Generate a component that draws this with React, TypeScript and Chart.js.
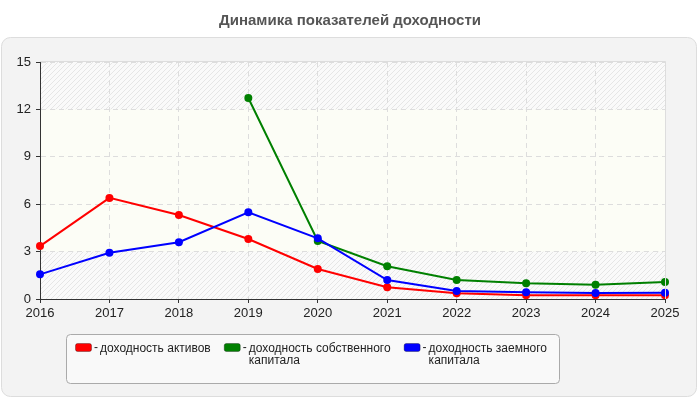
import { useEffect, useRef } from 'react';
import { Chart, registerables } from 'chart.js';
Chart.register(...registerables);

const chartTitle = 'Динамика показателей доходности';
const years = ['2016', '2017', '2018', '2019', '2020', '2021', '2022', '2023', '2024', '2025'];
const seriesLabels = ['доходность активов', 'доходность собственного капитала', 'доходность заемного капитала'];
const seriesColors = ['#ff0000', '#008000', '#0000ff'];
const assetsReturn = [3.35, 6.4, 5.32, 3.8, 1.9, 0.75, 0.37, 0.24, 0.24, 0.24];
const equityReturn = [null, null, null, 12.72, 3.67, 2.07, 1.2, 0.99, 0.9, 1.08];
const debtReturn = [1.56, 2.93, 3.59, 5.49, 3.84, 1.2, 0.5, 0.42, 0.38, 0.4];
const yTicks = [0, 3, 6, 9, 12, 15];
const bandRange = [3, 12];

const FONT = 'Arial, "Liberation Sans", sans-serif';

function roundRect(ctx: CanvasRenderingContext2D, x: number, y: number, w: number, h: number, r: number) {
  ctx.beginPath();
  ctx.moveTo(x + r, y);
  ctx.lineTo(x + w - r, y);
  ctx.arcTo(x + w, y, x + w, y + r, r);
  ctx.lineTo(x + w, y + h - r);
  ctx.arcTo(x + w, y + h, x + w - r, y + h, r);
  ctx.lineTo(x + r, y + h);
  ctx.arcTo(x, y + h, x, y + h - r, r);
  ctx.lineTo(x, y + r);
  ctx.arcTo(x, y, x + r, y, r);
  ctx.closePath();
}

function makeHatch(ctx: CanvasRenderingContext2D) {
  const s = 5;
  const c = document.createElement('canvas');
  c.width = s;
  c.height = s;
  const g = c.getContext('2d')!;
  g.fillStyle = '#fafafa';
  g.fillRect(0, 0, s, s);
  g.strokeStyle = '#e6e6e6';
  g.lineWidth = 1;
  g.beginPath();
  g.moveTo(0, s);
  g.lineTo(s, 0);
  g.moveTo(-1, 1);
  g.lineTo(1, -1);
  g.moveTo(s - 1, s + 1);
  g.lineTo(s + 1, s - 1);
  g.stroke();
  return ctx.createPattern(c, 'repeat');
}

function wrap(ctx: CanvasRenderingContext2D, text: string, maxW: number) {
  const words = text.split(' ');
  const lines: string[] = [];
  let cur = '';
  for (const w of words) {
    const t = cur ? cur + ' ' + w : w;
    if (cur && ctx.measureText(t).width > maxW) {
      lines.push(cur);
      cur = w;
    } else cur = t;
  }
  if (cur) lines.push(cur);
  return lines;
}

const decorPlugin = {
  id: 'decor',
  beforeDraw(chart: any) {
    const { ctx, chartArea, scales } = chart;
    ctx.save();
    ctx.fillStyle = '#ffffff';
    ctx.fillRect(0, 0, chart.width, chart.height);
    roundRect(ctx, 1.5, 37.5, 695, 359, 9);
    ctx.fillStyle = '#f3f3f3';
    ctx.fill();
    ctx.strokeStyle = '#dddddd';
    ctx.lineWidth = 1;
    ctx.stroke();
    const { left, right, top, bottom } = chartArea;
    ctx.fillStyle = makeHatch(ctx) as any;
    ctx.fillRect(left, top, right - left, bottom - top);
    const yTop = scales.y.getPixelForValue(bandRange[1]);
    const yBot = scales.y.getPixelForValue(bandRange[0]);
    ctx.fillStyle = '#fcfdf6';
    ctx.fillRect(left, yTop, right - left, yBot - yTop);
    ctx.restore();
  },
  afterDraw(chart: any) {
    const { ctx, chartArea } = chart;
    ctx.save();
    ctx.strokeStyle = '#dddddd';
    ctx.lineWidth = 1;
    ctx.beginPath();
    ctx.moveTo(chartArea.left, Math.round(chartArea.top) - 0.5);
    ctx.lineTo(Math.round(chartArea.right) + 0.5, Math.round(chartArea.top) - 0.5);
    ctx.lineTo(Math.round(chartArea.right) + 0.5, chartArea.bottom);
    ctx.stroke();
    ctx.fillStyle = '#555555';
    ctx.font = 'bold 15px ' + FONT;
    ctx.textAlign = 'center';
    ctx.textBaseline = 'middle';
    ctx.fillText(chartTitle, 350, 21);
    roundRect(ctx, 66.5, 334.5, 493, 49, 4);
    ctx.fillStyle = '#f9f9f9';
    ctx.fill();
    ctx.strokeStyle = '#aaaaaa';
    ctx.stroke();
    ctx.font = '12px ' + FONT;
    ctx.textAlign = 'left';
    ctx.textBaseline = 'middle';
    let x = 75;
    chart.data.datasets.forEach((ds: any) => {
      const lines = wrap(ctx, ds.label, 150);
      roundRect(ctx, x + 0.5, 343.5, 16, 8, 2);
      ctx.fillStyle = ds.borderColor;
      ctx.fill();
      ctx.strokeStyle = 'rgba(0,0,0,0.3)';
      ctx.stroke();
      ctx.fillStyle = '#222222';
      ctx.fillText('-', x + 19, 348);
      let maxW = 0;
      lines.forEach((ln: string, k: number) => {
        ctx.fillText(ln, x + 25, 349 + k * 12);
        maxW = Math.max(maxW, ctx.measureText(ln).width);
      });
      x = x + 25 + maxW + 13;
    });
    ctx.restore();
  },
};

export default function App() {
  const ref = useRef<HTMLCanvasElement | null>(null);
  useEffect(() => {
    document.body.style.margin = '0';
    Chart.defaults.font.family = FONT;
    const mk = (i: number, data: any[], order: number) => ({
      label: seriesLabels[i],
      data,
      borderColor: seriesColors[i],
      backgroundColor: seriesColors[i],
      borderWidth: 2,
      pointRadius: 4,
      pointBorderWidth: 0,
      pointBackgroundColor: seriesColors[i],
      tension: 0,
      fill: false,
      order,
    });
    const chart = new Chart(ref.current!, {
      type: 'line',
      data: {
        labels: years,
        datasets: [mk(0, assetsReturn, 3), mk(1, equityReturn, 2), mk(2, debtReturn, 1)],
      },
      plugins: [decorPlugin],
      options: {
        responsive: false,
        animation: false,
        devicePixelRatio: 1,
        layout: { padding: { left: 0, top: 62, right: 35, bottom: 81 } },
        plugins: { legend: { display: false }, title: { display: false }, tooltip: { enabled: false } },
        scales: {
          x: {
            offset: false,
            afterFit: (s: any) => { s.height = 20; },
            grid: { color: '#dddddd', tickColor: '#333333', tickLength: 4, tickBorderDash: [] },
            border: { color: '#333333', width: 1, dash: [5, 4] },
            ticks: { color: '#222222', font: { size: 13, family: FONT }, padding: 3, maxRotation: 0, autoSkip: false },
          },
          y: {
            min: 0,
            max: 15,
            afterFit: (s: any) => { s.width = 40; },
            afterBuildTicks: (s: any) => { s.ticks = yTicks.map((v) => ({ value: v })); },
            grid: { color: '#dddddd', tickColor: '#333333', tickLength: 4, tickBorderDash: [] },
            border: { color: '#333333', width: 1, dash: [5, 4] },
            ticks: { color: '#222222', font: { size: 13, family: FONT }, padding: 5 },
          },
        },
      } as any,
    });
    return () => chart.destroy();
  }, []);
  return (
    <div style={{ width: 700, height: 400 }}>
      <canvas ref={ref} width={700} height={400} style={{ display: 'block' }} />
    </div>
  );
}
